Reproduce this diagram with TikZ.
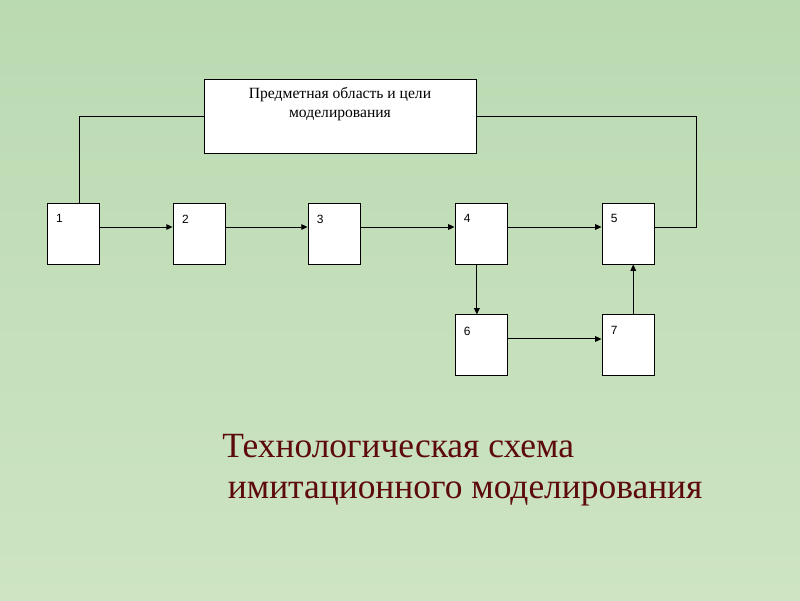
\documentclass[tikz,border=0pt]{standalone}
\usepackage{fontspec}
\setmainfont{Liberation Serif}
\newfontfamily\numfont{Liberation Sans}
\usepackage{xcolor}
\usetikzlibrary{arrows.meta, positioning}

\definecolor{bgtop}{RGB}{186,218,178}
\definecolor{bgbot}{RGB}{206,228,194}
\definecolor{titlered}{RGB}{92,10,10}

\begin{document}
\begin{tikzpicture}[
            box/.style={rectangle, draw=black, fill=white, line width=0.7pt, minimum width=1.31cm, minimum height=1.525cm, inner sep=0pt},
            num/.style={anchor=north west, inner xsep=6.5pt, inner ysep=8.5pt, font=\numfont\fontsize{8.5}{10}\selectfont},
            link/.style={line width=0.7pt, -{Triangle[length=4.5pt,width=4pt]}}
        ]
            % background of the slide
            \shade[top color=bgtop, bottom color=bgbot] (0,0) rectangle (20,-15);

            \node[box, minimum width=6.8cm, minimum height=1.85cm,
                  label={[anchor=north, align=center, inner sep=6pt, font=\fontsize{11.1}{13.6}\selectfont]north:Предметная область и цели\\моделирования}]
                  (goal) at (8.5,-2.9) {};

            \node[box, label={[num]north west:1}] (b1) at (1.8375,-5.8375) {};
            \node[box, right=1.81cm of b1, label={[num]north west:2}] (b2) {};
            \node[box, right=2.04cm of b2, label={[num]north west:3}] (b3) {};
            \node[box, right=2.34cm of b3, label={[num]north west:4}] (b4) {};
            \node[box, right=2.34cm of b4, label={[num]north west:5}] (b5) {};
            \node[box, below=1.25cm of b4, label={[num]north west:6}] (b6) {};
            \node[box, right=2.34cm of b6, label={[num]north west:7}] (b7) {};

            \draw[link] ([yshift=1.625mm]b1.east) -- ([yshift=1.625mm]b2.west);
            \draw[link] ([yshift=1.625mm]b2.east) -- ([yshift=1.625mm]b3.west);
            \draw[link] ([yshift=1.625mm]b3.east) -- ([yshift=1.625mm]b4.west);
            \draw[link] ([yshift=1.625mm]b4.east) -- ([yshift=1.625mm]b5.west);
            \draw[link] ([xshift=-1.1mm]b4.south) -- ([xshift=-1.1mm]b6.north);
            \draw[link] ([yshift=1.625mm]b6.east) -- ([yshift=1.625mm]b7.west);
            \draw[link] ([xshift=1.25mm]b7.north) -- ([xshift=1.25mm]b5.south);

            % feedback lines to the goal box
            \coordinate (rt) at ([xshift=10.5mm,yshift=1.625mm]b5.east);
            \draw[line width=0.7pt] ([xshift=1.4mm]b1.north) |- (goal.west);
            \draw[line width=0.7pt] (goal.east) -| (rt) -- ([yshift=1.625mm]b5.east);

            \node[anchor=north west, align=left, inner sep=0pt, text=titlered,
                  font=\fontsize{25.2}{29}\selectfont] (title) at (5.55,-10.85)
                  {Технологическая схема\\\hspace*{4pt}имитационного моделирования};
        \end{tikzpicture}
\end{document}
